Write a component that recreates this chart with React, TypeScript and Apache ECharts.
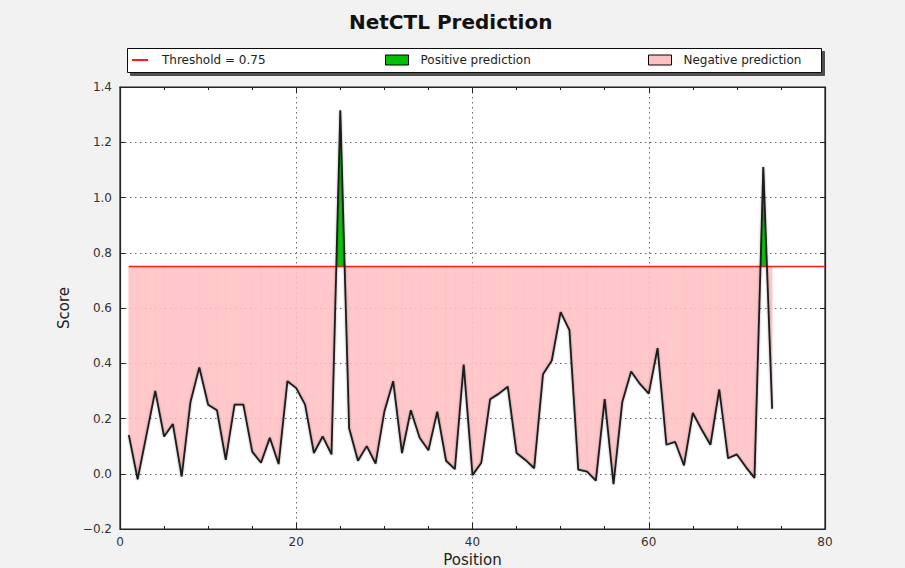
import React, { useEffect, useRef } from "react";
import * as echarts from "echarts";

// Peptide positions along the protein sequence
const positions: number[] = [
  1, 2, 3, 4, 5, 6, 7, 8, 9, 10, 11, 12, 13, 14, 15, 16, 17, 18, 19, 20,
  21, 22, 23, 24, 25, 26, 27, 28, 29, 30, 31, 32, 33, 34, 35, 36, 37, 38, 39, 40,
  41, 42, 43, 44, 45, 46, 47, 48, 49, 50, 51, 52, 53, 54, 55, 56, 57, 58, 59, 60,
  61, 62, 63, 64, 65, 66, 67, 68, 69, 70, 71, 72, 73, 74,
];

// NetCTL combined score at each position
const scores: number[] = [
  0.14, -0.02, 0.14, 0.3, 0.135, 0.18, -0.01, 0.26, 0.385, 0.25,
  0.23, 0.05, 0.25, 0.25, 0.08, 0.04, 0.13, 0.035, 0.335, 0.31,
  0.25, 0.075, 0.135, 0.07, 1.315, 0.165, 0.047, 0.1, 0.037, 0.225,
  0.335, 0.075, 0.23, 0.13, 0.085, 0.225, 0.047, 0.017, 0.395, -0.005,
  0.04, 0.27, 0.29, 0.315, 0.075, 0.05, 0.02, 0.36, 0.41, 0.585,
  0.52, 0.015, 0.008, -0.025, 0.27, -0.038, 0.26, 0.37, 0.325, 0.29,
  0.455, 0.105, 0.115, 0.03, 0.22, 0.16, 0.105, 0.305, 0.056, 0.07,
  0.025, -0.015, 1.11, 0.235,
];

const THRESHOLD = 0.75;
const X_MIN = 0;
const X_MAX = 80;
const X_STEP = 20;
const Y_MIN = -0.2;
const Y_MAX = 1.4;
const Y_STEP = 0.2;

const THRESHOLD_NAME = "Threshold = 0.75";
const POSITIVE_NAME = "Positive prediction";
const NEGATIVE_NAME = "Negative prediction";

const RED = "#ff1a1a";
const GREEN = "#00c000";
const PINK = "#ffc0c4";
const FONT = "DejaVu Sans";

// consecutive score pairs, each drawn as one filled piece against the threshold
const segments: number[][] = positions
  .slice(0, -1)
  .map((p, i) => [p, scores[i], positions[i + 1], scores[i + 1]]);

function piece(x0: number, y0: number, x1: number, y1: number, above: boolean): number[][] | null {
  const inside = (y: number) => (above ? y >= THRESHOLD : y <= THRESHOLD);
  const a = inside(y0);
  const b = inside(y1);
  if (a && b) return [[x0, y0], [x1, y1], [x1, THRESHOLD], [x0, THRESHOLD]];
  if (!a && !b) return null;
  const xc = x0 + ((THRESHOLD - y0) / (y1 - y0)) * (x1 - x0);
  return a
    ? [[x0, y0], [xc, THRESHOLD], [x0, THRESHOLD]]
    : [[xc, THRESHOLD], [x1, y1], [x1, THRESHOLD]];
}

function fillSeries(name: string, above: boolean, color: string, opacity: number) {
  return {
    name,
    type: "custom",
    data: segments,
    dimensions: ["x0", "y0", "x1", "y1"],
    encode: { x: [0, 2], y: [1, 3] },
    clip: true,
    silent: true,
    itemStyle: { color, borderColor: "#000", borderWidth: 1 },
    renderItem: (_params: any, api: any) => {
      const pts = piece(api.value(0), api.value(1), api.value(2), api.value(3), above);
      if (!pts) return { type: "group", children: [] };
      return {
        type: "polygon",
        shape: { points: pts.map((p) => api.coord(p)) },
        style: { fill: color, stroke: color, lineWidth: 0.6, opacity },
      };
    },
    z: 1,
  };
}

function yLabel(v: number): string {
  const r = Math.round(v * 10) / 10;
  if (r < 0) return "\u2212" + Math.abs(r).toFixed(1);
  return Math.abs(r).toFixed(1);
}

const tickLabel = { color: "#333", fontSize: 12, fontFamily: FONT };
const frameLine = { show: true, onZero: false, lineStyle: { color: "#222", width: 1.2 } };
const gridLine = { show: true, lineStyle: { color: "#666", width: 1, type: [1.5, 3.5] } };

export default function App() {
  const ref = useRef<HTMLDivElement>(null);

  useEffect(() => {
    if (!ref.current) return;
    const chart = echarts.init(ref.current, null, { renderer: "svg" });
    chart.setOption({
      animation: false,
      backgroundColor: "#f2f2f2",
      textStyle: { fontFamily: FONT },
      title: {
        text: "NetCTL Prediction",
        left: 349,
        top: 12,
        padding: 0,
        textStyle: { fontSize: 20, fontWeight: "bold", color: "#111", fontFamily: FONT },
      },
      graphic: [
        {
          type: "rect",
          left: 127,
          top: 48,
          shape: { width: 694, height: 24 },
          style: {
            fill: "#fff",
            stroke: "#111",
            lineWidth: 1,
            shadowColor: "rgba(60,60,60,0.9)",
            shadowOffsetX: 3,
            shadowOffsetY: 3,
            shadowBlur: 1,
          },
          z: 0,
        },
      ],
      legend: [
        {
          data: [{ name: THRESHOLD_NAME, icon: "rect" }],
          left: 132,
          top: 54,
          padding: 0,
          itemWidth: 16,
          itemHeight: 2,
          textStyle: { fontSize: 12, color: "#222", fontFamily: FONT, padding: [0, 0, 0, 9] },
          z: 5,
        },
        {
          data: [{ name: POSITIVE_NAME, icon: "rect", itemStyle: { borderColor: "#000", borderWidth: 1 } }],
          left: 385,
          top: 54,
          padding: 0,
          itemWidth: 23,
          itemHeight: 10,
          textStyle: { fontSize: 12, color: "#222", fontFamily: FONT, padding: [0, 0, 0, 7] },
          z: 5,
        },
        {
          data: [{ name: NEGATIVE_NAME, icon: "rect", itemStyle: { borderColor: "#000", borderWidth: 1 } }],
          left: 648,
          top: 54,
          padding: 0,
          itemWidth: 23,
          itemHeight: 10,
          textStyle: { fontSize: 12, color: "#222", fontFamily: FONT, padding: [0, 0, 0, 7] },
          z: 5,
        },
      ],
      grid: {
        left: 120,
        top: 87,
        width: 705,
        height: 442,
        outerBoundsMode: "none",
        containLabel: false,
        show: true,
        backgroundColor: "#fff",
        borderColor: "#222",
        borderWidth: 1.2,
      },
      xAxis: [
        {
          type: "value",
          position: "bottom",
          min: X_MIN,
          max: X_MAX,
          interval: X_STEP,
          name: "Position",
          nameLocation: "middle",
          nameGap: 19,
          nameTextStyle: { fontSize: 15, color: "#222", fontFamily: FONT },
          axisLine: frameLine,
          axisTick: { show: true, inside: true, length: 6, lineStyle: { color: "#222" } },
          minorTick: { show: true, splitNumber: 4, length: 3, lineStyle: { color: "#222" } },
          splitLine: gridLine,
          axisLabel: { ...tickLabel, margin: 7 },
        },
        {
          type: "value",
          position: "top",
          min: X_MIN,
          max: X_MAX,
          interval: X_STEP,
          axisLine: frameLine,
          axisTick: { show: true, inside: true, length: 6, lineStyle: { color: "#222" } },
          minorTick: { show: true, splitNumber: 4, length: 3, lineStyle: { color: "#222" } },
          splitLine: { show: false },
          axisLabel: { show: false },
        },
      ],
      yAxis: [
        {
          type: "value",
          position: "left",
          min: Y_MIN,
          max: Y_MAX,
          interval: Y_STEP,
          name: "Score",
          nameLocation: "middle",
          nameGap: 39,
          nameTextStyle: { fontSize: 15, color: "#222", fontFamily: FONT },
          axisLine: frameLine,
          axisTick: { show: true, inside: true, length: 5, lineStyle: { color: "#222" } },
          splitLine: gridLine,
          axisLabel: { ...tickLabel, margin: 8, formatter: yLabel },
        },
        {
          type: "value",
          position: "right",
          min: Y_MIN,
          max: Y_MAX,
          interval: Y_STEP,
          axisLine: frameLine,
          axisTick: { show: true, inside: true, length: 5, lineStyle: { color: "#222" } },
          splitLine: { show: false },
          axisLabel: { show: false },
        },
      ],
      series: [
        fillSeries(NEGATIVE_NAME, false, PINK, 0.88),
        fillSeries(POSITIVE_NAME, true, GREEN, 0.95),
        {
          name: THRESHOLD_NAME,
          type: "line",
          data: [
            [positions[0], THRESHOLD],
            [X_MAX, THRESHOLD],
          ],
          showSymbol: false,
          symbol: "none",
          color: RED,
          itemStyle: { color: RED },
          lineStyle: { color: RED, width: 1.6 },
          silent: true,
          z: 3,
        },
        {
          name: "Score",
          type: "line",
          data: positions.map((p, i) => [p, scores[i]]),
          showSymbol: false,
          symbol: "none",
          lineStyle: { color: "#1c1c1c", width: 1.8, shadowColor: "rgba(0,0,0,0.35)", shadowBlur: 2 },
          silent: true,
          z: 4,
        },
      ],
    });
    return () => chart.dispose();
  }, []);

  return (
    <div
      ref={ref}
      style={{ position: "absolute", left: 0, top: 0, width: 905, height: 568 }}
    />
  );
}
